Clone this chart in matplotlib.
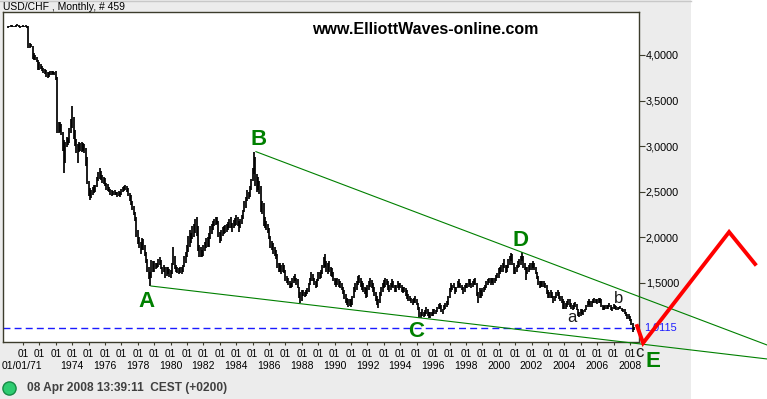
import matplotlib.pyplot as plt
import matplotlib.transforms as mtransforms
from matplotlib.patches import Rectangle
from matplotlib.lines import Line2D

# Monthly USD/CHF bars, Feb 1970 .. Apr 2008 (month index 0 = Jan 1970)
first_month = 1

highs = [
    4.32, 4.32, 4.33, 4.33, 4.32, 4.32, 4.33, 4.34, 4.33, 4.32, 4.32,              # 1970
    4.33, 4.32, 4.33, 4.32, 4.32, 4.13, 4.12, 4.10, 4.02, 4.00, 3.98, 3.95,        # 1971
    3.92, 3.90, 3.88, 3.86, 3.85, 3.84, 3.81, 3.81, 3.82, 3.82, 3.82, 3.81,        # 1972
    3.82, 3.76, 3.27, 3.26, 3.24, 3.15, 3.07, 3.05, 3.10, 3.09, 3.20, 3.30,        # 1973
    3.44, 3.32, 3.18, 3.08, 3.02, 3.05, 3.04, 3.05, 3.04, 3.02, 2.98, 2.88,        # 1974
    2.62, 2.54, 2.52, 2.55, 2.57, 2.57, 2.66, 2.72, 2.76, 2.73, 2.68, 2.66,        # 1975
    2.65, 2.60, 2.58, 2.55, 2.53, 2.52, 2.51, 2.52, 2.50, 2.50, 2.51, 2.50,        # 1976
    2.53, 2.55, 2.56, 2.57, 2.56, 2.54, 2.49, 2.46, 2.40, 2.34, 2.28, 2.22,        # 1977
    2.08, 2.00, 1.95, 1.99, 1.98, 1.92, 1.84, 1.76, 1.68, 1.62, 1.75, 1.74,        # 1978
    1.74, 1.72, 1.72, 1.76, 1.78, 1.75, 1.68, 1.70, 1.67, 1.68, 1.68, 1.65,        # 1979
    1.64, 1.72, 1.89, 1.80, 1.70, 1.67, 1.66, 1.68, 1.67, 1.70, 1.80, 1.84,        # 1980
    1.92, 2.02, 2.08, 2.05, 2.12, 2.15, 2.20, 2.22, 2.12, 1.92, 1.90, 1.86,        # 1981
    1.92, 1.95, 1.99, 2.00, 2.05, 2.12, 2.15, 2.18, 2.20, 2.22, 2.22, 2.18,        # 1982
    2.06, 2.08, 2.11, 2.12, 2.14, 2.15, 2.17, 2.20, 2.22, 2.16, 2.19, 2.21,        # 1983
    2.24, 2.22, 2.18, 2.20, 2.24, 2.30, 2.40, 2.44, 2.52, 2.50, 2.56, 2.64,        # 1984
    2.76, 2.94, 2.88, 2.70, 2.66, 2.62, 2.56, 2.40, 2.38, 2.22, 2.18, 2.15,        # 1985
    2.10, 2.02, 1.96, 1.94, 1.90, 1.86, 1.82, 1.72, 1.72, 1.70, 1.72, 1.70,        # 1986
    1.64, 1.58, 1.56, 1.52, 1.50, 1.56, 1.58, 1.60, 1.56, 1.54, 1.46, 1.40,        # 1987
    1.42, 1.42, 1.40, 1.42, 1.44, 1.50, 1.56, 1.62, 1.60, 1.56, 1.52, 1.54,        # 1988
    1.62, 1.62, 1.64, 1.70, 1.78, 1.82, 1.74, 1.72, 1.74, 1.68, 1.66, 1.62,        # 1989
    1.56, 1.54, 1.56, 1.54, 1.52, 1.50, 1.46, 1.42, 1.38, 1.34, 1.32, 1.32,        # 1990
    1.32, 1.36, 1.46, 1.50, 1.52, 1.58, 1.59, 1.56, 1.52, 1.50, 1.46, 1.44,        # 1991
    1.48, 1.52, 1.55, 1.53, 1.50, 1.46, 1.40, 1.36, 1.32, 1.40, 1.46, 1.50,        # 1992
    1.53, 1.55, 1.54, 1.52, 1.48, 1.50, 1.54, 1.52, 1.48, 1.48, 1.52, 1.50,        # 1993
    1.50, 1.48, 1.46, 1.46, 1.44, 1.42, 1.38, 1.36, 1.34, 1.32, 1.34, 1.36,        # 1994
    1.32, 1.28, 1.24, 1.18, 1.22, 1.18, 1.20, 1.24, 1.22, 1.18, 1.18, 1.18,        # 1995
    1.22, 1.22, 1.20, 1.24, 1.27, 1.28, 1.26, 1.22, 1.26, 1.28, 1.30, 1.36,        # 1996
    1.44, 1.50, 1.48, 1.50, 1.46, 1.46, 1.52, 1.54, 1.50, 1.48, 1.46, 1.48,        # 1997
    1.50, 1.50, 1.54, 1.54, 1.50, 1.52, 1.54, 1.55, 1.50, 1.40, 1.44, 1.42,        # 1998
    1.44, 1.46, 1.48, 1.52, 1.54, 1.56, 1.56, 1.56, 1.56, 1.56, 1.59, 1.61,        # 1999
    1.66, 1.68, 1.70, 1.72, 1.76, 1.70, 1.70, 1.76, 1.80, 1.83, 1.82, 1.72,        # 2000
    1.68, 1.70, 1.74, 1.76, 1.80, 1.84, 1.80, 1.72, 1.68, 1.68, 1.70, 1.72,        # 2001
    1.72, 1.74, 1.72, 1.68, 1.62, 1.58, 1.52, 1.52, 1.52, 1.52, 1.50, 1.48,        # 2002
    1.42, 1.40, 1.42, 1.40, 1.36, 1.36, 1.40, 1.42, 1.40, 1.36, 1.36, 1.32,        # 2003
    1.30, 1.28, 1.30, 1.32, 1.32, 1.28, 1.26, 1.28, 1.29, 1.27, 1.22, 1.18,        # 2004
    1.22, 1.22, 1.20, 1.22, 1.26, 1.30, 1.32, 1.30, 1.30, 1.32, 1.33, 1.32,        # 2005
    1.32, 1.33, 1.33, 1.32, 1.26, 1.25, 1.26, 1.26, 1.26, 1.28, 1.26, 1.24,        # 2006
    1.27, 1.26, 1.25, 1.24, 1.24, 1.25, 1.23, 1.22, 1.21, 1.18, 1.16, 1.16,        # 2007
    1.14, 1.10, 1.06, 1.02,                                                        # 2008
]

lows = [
    4.30, 4.31, 4.31, 4.31, 4.31, 4.31, 4.31, 4.32, 4.31, 4.30, 4.31,              # 1970
    4.31, 4.31, 4.31, 4.30, 4.08, 4.08, 4.09, 3.96, 3.94, 3.95, 3.92, 3.84,        # 1971
    3.84, 3.85, 3.82, 3.80, 3.79, 3.76, 3.75, 3.76, 3.78, 3.78, 3.79, 3.78,        # 1972
    3.73, 3.14, 3.14, 3.16, 3.12, 2.95, 2.71, 2.82, 2.99, 3.01, 3.04, 3.14,        # 1973
    3.20, 3.08, 3.00, 2.93, 2.82, 2.94, 2.95, 2.94, 2.95, 2.93, 2.78, 2.58,        # 1974
    2.45, 2.41, 2.43, 2.47, 2.49, 2.50, 2.55, 2.62, 2.64, 2.63, 2.60, 2.58,        # 1975
    2.56, 2.52, 2.51, 2.50, 2.47, 2.45, 2.46, 2.47, 2.46, 2.44, 2.45, 2.44,        # 1976
    2.47, 2.50, 2.51, 2.52, 2.50, 2.45, 2.40, 2.36, 2.30, 2.24, 2.18, 2.00,        # 1977
    1.93, 1.88, 1.82, 1.86, 1.86, 1.80, 1.72, 1.62, 1.54, 1.47, 1.55, 1.62,        # 1978
    1.62, 1.65, 1.66, 1.68, 1.70, 1.65, 1.60, 1.62, 1.56, 1.58, 1.60, 1.57,        # 1979
    1.56, 1.60, 1.70, 1.65, 1.62, 1.61, 1.60, 1.61, 1.60, 1.62, 1.67, 1.72,        # 1980
    1.78, 1.84, 1.90, 1.94, 1.98, 2.00, 2.05, 2.02, 1.85, 1.78, 1.78, 1.79,        # 1981
    1.80, 1.85, 1.88, 1.89, 1.90, 1.98, 2.04, 2.08, 2.12, 2.14, 2.15, 2.00,        # 1982
    1.94, 1.96, 2.02, 2.04, 2.05, 2.06, 2.08, 2.10, 2.10, 2.06, 2.10, 2.12,        # 1983
    2.14, 2.12, 2.06, 2.10, 2.15, 2.20, 2.28, 2.32, 2.40, 2.42, 2.44, 2.52,        # 1984
    2.62, 2.70, 2.56, 2.50, 2.52, 2.48, 2.28, 2.26, 2.12, 2.10, 2.08, 2.05,        # 1985
    1.98, 1.88, 1.86, 1.82, 1.80, 1.76, 1.66, 1.62, 1.62, 1.60, 1.62, 1.61,        # 1986
    1.52, 1.50, 1.48, 1.44, 1.44, 1.46, 1.50, 1.52, 1.48, 1.44, 1.34, 1.28,        # 1987
    1.30, 1.36, 1.35, 1.36, 1.38, 1.40, 1.48, 1.52, 1.52, 1.48, 1.44, 1.46,        # 1988
    1.52, 1.54, 1.56, 1.60, 1.66, 1.68, 1.62, 1.60, 1.62, 1.58, 1.57, 1.52,        # 1989
    1.48, 1.46, 1.48, 1.46, 1.44, 1.42, 1.38, 1.32, 1.28, 1.26, 1.24, 1.25,        # 1990
    1.24, 1.26, 1.34, 1.40, 1.42, 1.48, 1.50, 1.46, 1.42, 1.40, 1.38, 1.34,        # 1991
    1.35, 1.42, 1.46, 1.44, 1.40, 1.36, 1.30, 1.26, 1.23, 1.28, 1.36, 1.40,        # 1992
    1.44, 1.46, 1.48, 1.42, 1.40, 1.42, 1.46, 1.44, 1.40, 1.40, 1.44, 1.42,        # 1993
    1.44, 1.40, 1.39, 1.40, 1.36, 1.32, 1.30, 1.30, 1.28, 1.26, 1.28, 1.28,        # 1994
    1.26, 1.20, 1.12, 1.12, 1.14, 1.13, 1.14, 1.16, 1.14, 1.12, 1.12, 1.14,        # 1995
    1.14, 1.16, 1.16, 1.18, 1.22, 1.22, 1.18, 1.16, 1.20, 1.22, 1.24, 1.26,        # 1996
    1.34, 1.40, 1.42, 1.44, 1.38, 1.40, 1.44, 1.46, 1.44, 1.42, 1.38, 1.40,        # 1997
    1.44, 1.44, 1.46, 1.48, 1.44, 1.46, 1.48, 1.48, 1.36, 1.28, 1.34, 1.34,        # 1998
    1.36, 1.40, 1.42, 1.44, 1.48, 1.50, 1.48, 1.50, 1.48, 1.50, 1.52, 1.55,        # 1999
    1.56, 1.60, 1.62, 1.62, 1.66, 1.61, 1.62, 1.66, 1.70, 1.74, 1.70, 1.60,        # 2000
    1.60, 1.62, 1.66, 1.68, 1.70, 1.74, 1.66, 1.64, 1.53, 1.60, 1.62, 1.64,        # 2001
    1.64, 1.66, 1.64, 1.60, 1.54, 1.48, 1.44, 1.46, 1.46, 1.46, 1.44, 1.38,        # 2002
    1.34, 1.33, 1.34, 1.34, 1.28, 1.30, 1.34, 1.36, 1.32, 1.30, 1.28, 1.22,        # 2003
    1.22, 1.22, 1.24, 1.26, 1.24, 1.22, 1.20, 1.22, 1.24, 1.20, 1.14, 1.13,        # 2004
    1.14, 1.16, 1.15, 1.18, 1.20, 1.24, 1.26, 1.24, 1.24, 1.28, 1.28, 1.28,        # 2005
    1.27, 1.28, 1.28, 1.24, 1.20, 1.20, 1.22, 1.22, 1.22, 1.24, 1.20, 1.19,        # 2006
    1.22, 1.22, 1.20, 1.20, 1.21, 1.22, 1.19, 1.18, 1.16, 1.14, 1.10, 1.11,        # 2007
    1.08, 1.04, 0.96, 0.99,                                                        # 2008
]

last_price = 1.0115
tick_years = list(range(1971, 2009))
year_row = ["01/01/71"] + [str(y) for y in range(1974, 2009, 2)]
price_ticks = [1.5, 2.0, 2.5, 3.0, 3.5, 4.0]

# Elliott wave drawing, points as (month index, price)
upper_trend = [(182.4, 2.94), (556.3, 0.82)]
lower_trend = [(105.6, 1.467), (556.3, 0.667)]
projection = [(461.2, 1.028), (465.6, 0.842), (528.5, 2.059), (547.5, 1.708)]
wave_labels = [("A", 102.7, 1.237), ("B", 184.3, 3.013), ("C", 299.5, 0.908),
               ("D", 375.6, 1.906), ("E", 472.9, 0.579)]
sub_labels = [("a", 413.6, 1.072), ("b", 448.0, 1.281), ("c", 463.2, 0.689)]

W, H = 767, 399
GREEN = "#008000"
EDGE = "#3c3c2c"
plt.rcParams["font.family"] = ["Liberation Sans", "DejaVu Sans"]

fig = plt.figure(figsize=(W / 100, H / 100), dpi=100, facecolor="white")
fig.add_artist(Rectangle((0, 0), 691 / W, 1, transform=fig.transFigure,
                         facecolor="#ececec", edgecolor="none", zorder=-5))
fig.add_artist(Line2D([0, 691 / W], [1 - 0.5 / H, 1 - 0.5 / H], color="#c8c8c8",
                      linewidth=1.0, transform=fig.transFigure))
ax = fig.add_axes([3 / W, 57 / H, 636 / W, 330 / H])
ax.set_facecolor("white")

months = list(range(first_month, first_month + len(highs)))
ax.vlines(months, lows, highs, color="black", linewidth=1.25, zorder=3)

ax.hlines(last_price, -2.6, months[-1], colors="#1a1aff", linestyles=(0, (5, 3)),
          linewidth=1.0, zorder=2)

for pts in (upper_trend, lower_trend):
    ax.plot([p[0] for p in pts], [p[1] for p in pts], color=GREEN,
            linewidth=0.8, clip_on=False, zorder=4)
ax.plot([p[0] for p in projection], [p[1] for p in projection], color="red",
        linewidth=2.8, clip_on=False, zorder=6, solid_joinstyle="miter")

for txt, mx, py in wave_labels:
    ax.text(mx, py, txt, color=GREEN, fontsize=16, fontweight="bold",
            ha="center", va="baseline", zorder=5)
for txt, mx, py in sub_labels:
    ax.text(mx, py, txt, color="#1a1a1a", fontsize=12,
            ha="center", va="baseline", zorder=5)

ax.set_xlim(-2.6, 462.6)
ax.set_ylim(0.853, 4.471)

# x axis: a tick every January, year under every other one
jan_ticks = [(y - 1970) * 12 for y in tick_years]
ax.set_xticks(jan_ticks)
ax.set_xticklabels(["01"] * len(tick_years))
ax.tick_params(axis="x", length=2, pad=3, labelsize=7.2, color=EDGE)
xtrans = mtransforms.blended_transform_factory(ax.transData, ax.transAxes)
year_pos = [11] + [(y - 1970) * 12 for y in range(1974, 2009, 2)]
for lab, mx in zip(year_row, year_pos):
    ax.text(mx, -0.073, lab, transform=xtrans, fontsize=7.5,
            ha="center", va="center")

ax.yaxis.tick_right()
ax.set_yticks(price_ticks)
ax.set_yticklabels([f"{v:.4f}".replace(".", ",") for v in price_ticks])
ax.tick_params(axis="y", length=4, pad=1, labelsize=7.8, color=EDGE)

for s in ax.spines.values():
    s.set_color(EDGE)
    s.set_linewidth(1.0)

ax.text(1.008, last_price, f"{last_price:.4f}".replace(".", ","), color="#1a1aff",
        fontsize=7.8, transform=ax.get_yaxis_transform(), va="center", ha="left", zorder=5)

fig.text(3 / W, 1 - 7 / H, "USD/CHF , Monthly, # 459", fontsize=7.5, va="center", ha="left")
fig.text(425 / W, 1 - 29 / H, "www.ElliottWaves-online.com", fontsize=11.5,
         fontweight="bold", va="center", ha="center")
fig.add_artist(Line2D([9 / W], [1 - 388 / H], marker="o", markersize=9.5,
                      markerfacecolor="#2ecc71", markeredgecolor="#168a45",
                      transform=fig.transFigure))
fig.text(27 / W, 1 - 388 / H, "08 Apr 2008 13:39:11  CEST (+0200)", fontsize=8.6,
         fontweight="bold", color="#404040", va="center", ha="left")

fig.savefig("out.png", dpi=100, facecolor=fig.get_facecolor())
